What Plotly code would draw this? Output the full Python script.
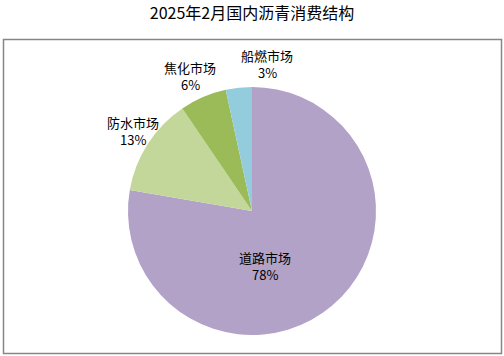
import plotly.graph_objects as go

categories = ["道路市场", "防水市场", "焦化市场", "船燃市场"]
values = [77.7, 12.8, 6.1, 3.4]
colors = ["#B2A2C7", "#C4D79B", "#9BBB59", "#93CDDD"]

# label anchor positions (pixels from top-left), layout only
label_px = [(265, 266), (133, 131), (190, 76), (267, 64)]

W, H = 504, 356
cx, cy, r = 252, 211, 124
FONT = "Noto Sans CJK SC"
HALF_GAP = 8.6

fig = go.Figure(go.Pie(
    labels=categories,
    values=values,
    sort=False,
    direction="clockwise",
    rotation=0,
    marker=dict(colors=colors, line=dict(width=0)),
    textinfo="none",
    showlegend=False,
    hoverinfo="label+percent",
    domain=dict(x=[(cx - r) / W, (cx + r) / W], y=[1 - (cy + r) / H, 1 - (cy - r) / H]),
))

total = sum(values)
annotations = []
for cat, v, (px, py) in zip(categories, values, label_px):
    for txt, dy in ((cat, -HALF_GAP), (f"{v / total:.0%}", HALF_GAP)):
        annotations.append(dict(
            text=txt, x=px / W, y=1 - (py + dy) / H, xref="paper", yref="paper",
            xanchor="center", yanchor="middle", showarrow=False, align="center",
            borderpad=0, borderwidth=0,
            font=dict(family=FONT, size=13, color="#000000"),
        ))

fig.update_layout(
    width=W, height=H,
    margin=dict(l=0, r=0, t=0, b=0),
    paper_bgcolor="white",
    title=dict(text="2025年2月国内沥青消费结构", x=0.5, xanchor="center", y=1 - 13 / H, yanchor="middle",
               font=dict(family=FONT, size=16, color="#000000")),
    annotations=annotations,
    shapes=[dict(type="rect", xref="paper", yref="paper", x0=3.5 / W, x1=501.5 / W, y0=1 - 353.5 / H, y1=1 - 39.5 / H,
                 line=dict(color="#868686", width=1.5), fillcolor="rgba(0,0,0,0)", layer="below")],
)

fig.write_html("out.html", config={"displayModeBar": False},
               post_script="document.body.style.margin='0px';document.body.style.padding='0px';")
